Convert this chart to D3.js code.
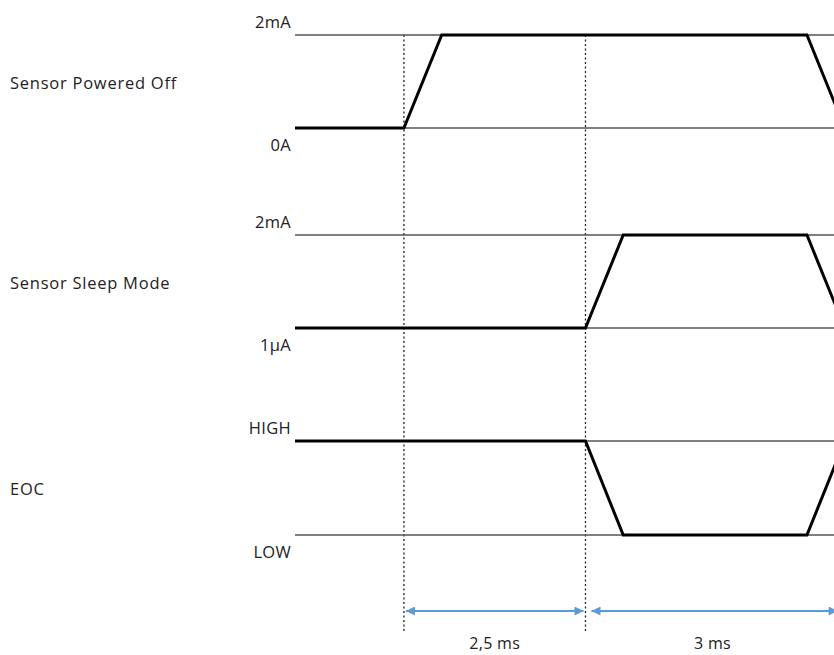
<!DOCTYPE html>
<html>
<head>
<meta charset="utf-8">
<script src="https://cdn.jsdelivr.net/npm/d3@7"></script>
<style>
  body { margin: 0; background: #fff; }
  text { font-family: "Open Sans", sans-serif; fill: #222; }
</style>
</head>
<body>
<script>
// Signal names and the labels of their two levels (high, low)
const signals = ["Sensor Powered Off", "Sensor Sleep Mode", "EOC"];
const highLabels = ["2mA", "2mA", "HIGH"];
const lowLabels = ["0A", "1µA", "LOW"];

// Waveforms: [time in ms, level 0 = low, 1 = high]
const poweredOff = [[-1.5, 0], [0, 0], [0.52, 1], [5.55, 1], [6.07, 0]];
const sleepMode = [[-1.5, 0], [2.5, 0], [3.02, 1], [5.55, 1], [6.07, 0]];
const eoc = [[-1.5, 1], [2.5, 1], [3.02, 0], [5.55, 0], [6.07, 1]];
const waves = [poweredOff, sleepMode, eoc];

// Marker times (dotted lines) and measured intervals
const markers = [0, 2.5];
const intervals = [
  { from: 0, to: 2.5, label: "2,5 ms" },
  { from: 2.5, to: 6.0, label: "3 ms" }
];

const width = 834, height = 655;

// row layout: y of high line and low line
const rows = [
  { top: 35, bottom: 128 },
  { top: 235, bottom: 328 },
  { top: 441, bottom: 535 }
];

const x = d3.scaleLinear().domain([-1.5, 5.95]).range([295, 836]);

const svg = d3.select("body").append("svg")
  .attr("width", width)
  .attr("height", height);

svg.append("defs").append("clipPath").attr("id", "clip")
  .append("rect").attr("x", 0).attr("y", 0).attr("width", width).attr("height", height);

svg.append("defs").append("marker")
  .attr("id", "head")
  .attr("viewBox", "0 0 10 10")
  .attr("refX", 10).attr("refY", 5)
  .attr("markerWidth", 11).attr("markerHeight", 9)
  .attr("markerUnits", "userSpaceOnUse")
  .attr("orient", "auto-start-reverse")
  .append("path")
  .attr("d", "M0,0L10,5L0,10Z")
  .attr("fill", "#5b9bd5");

// dotted markers
svg.append("g")
  .selectAll("line")
  .data(markers)
  .join("line")
  .attr("x1", d => x(d)).attr("x2", d => x(d))
  .attr("y1", rows[0].top).attr("y2", 632)
  .attr("stroke", "#222")
  .attr("stroke-width", 1.3)
  .attr("stroke-dasharray", "2,2.5");

const row = svg.append("g")
  .selectAll("g")
  .data(signals)
  .join("g");

row.each(function(name, i) {
  const g = d3.select(this);
  const r = rows[i];
  const y = d3.scaleLinear().domain([0, 1]).range([r.bottom, r.top]);

  // reference lines
  g.selectAll("line.ref")
    .data([0, 1])
    .join("line")
    .attr("class", "ref")
    .attr("x1", x(-1.5)).attr("x2", width)
    .attr("y1", d => y(d)).attr("y2", d => y(d))
    .attr("stroke", "#555")
    .attr("stroke-width", 1.5);

  // waveform
  g.append("path")
    .datum(waves[i])
    .attr("clip-path", "url(#clip)")
    .attr("fill", "none")
    .attr("stroke", "#000")
    .attr("stroke-width", 3)
    .attr("stroke-linejoin", "miter")
    .attr("d", d3.line().x(d => x(d[0])).y(d => y(d[1])));

  // signal name
  g.append("text")
    .attr("x", 10)
    .attr("y", (r.top + r.bottom) / 2 + 7)
    .attr("font-size", 16.5)
    .attr("letter-spacing", 0.75)
    .text(name);

  // level labels
  g.append("text")
    .attr("x", 291)
    .attr("y", r.top - 7)
    .attr("text-anchor", "end")
    .attr("font-size", 16.5)
    .attr("letter-spacing", 0.3)
    .text(highLabels[i]);

  g.append("text")
    .attr("x", 291)
    .attr("y", r.bottom + 23)
    .attr("text-anchor", "end")
    .attr("font-size", 16.5)
    .attr("letter-spacing", 0.3)
    .text(lowLabels[i]);
});

// interval arrows
const arrows = svg.append("g")
  .selectAll("g")
  .data(intervals)
  .join("g");

arrows.append("line")
  .attr("x1", (d, i) => x(d.from) + (i === 0 ? 2 : 6))
  .attr("x2", (d, i) => x(d.to) - 2)
  .attr("y1", 611).attr("y2", 611)
  .attr("stroke", "#5b9bd5")
  .attr("stroke-width", 2)
  .attr("marker-start", "url(#head)")
  .attr("marker-end", "url(#head)");

arrows.append("text")
  .attr("x", d => (x(d.from) + x(d.to)) / 2)
  .attr("y", 649)
  .attr("text-anchor", "middle")
  .attr("font-size", 16)
  .attr("letter-spacing", 0.3)
  .text(d => d.label);
</script>
</body>
</html>
